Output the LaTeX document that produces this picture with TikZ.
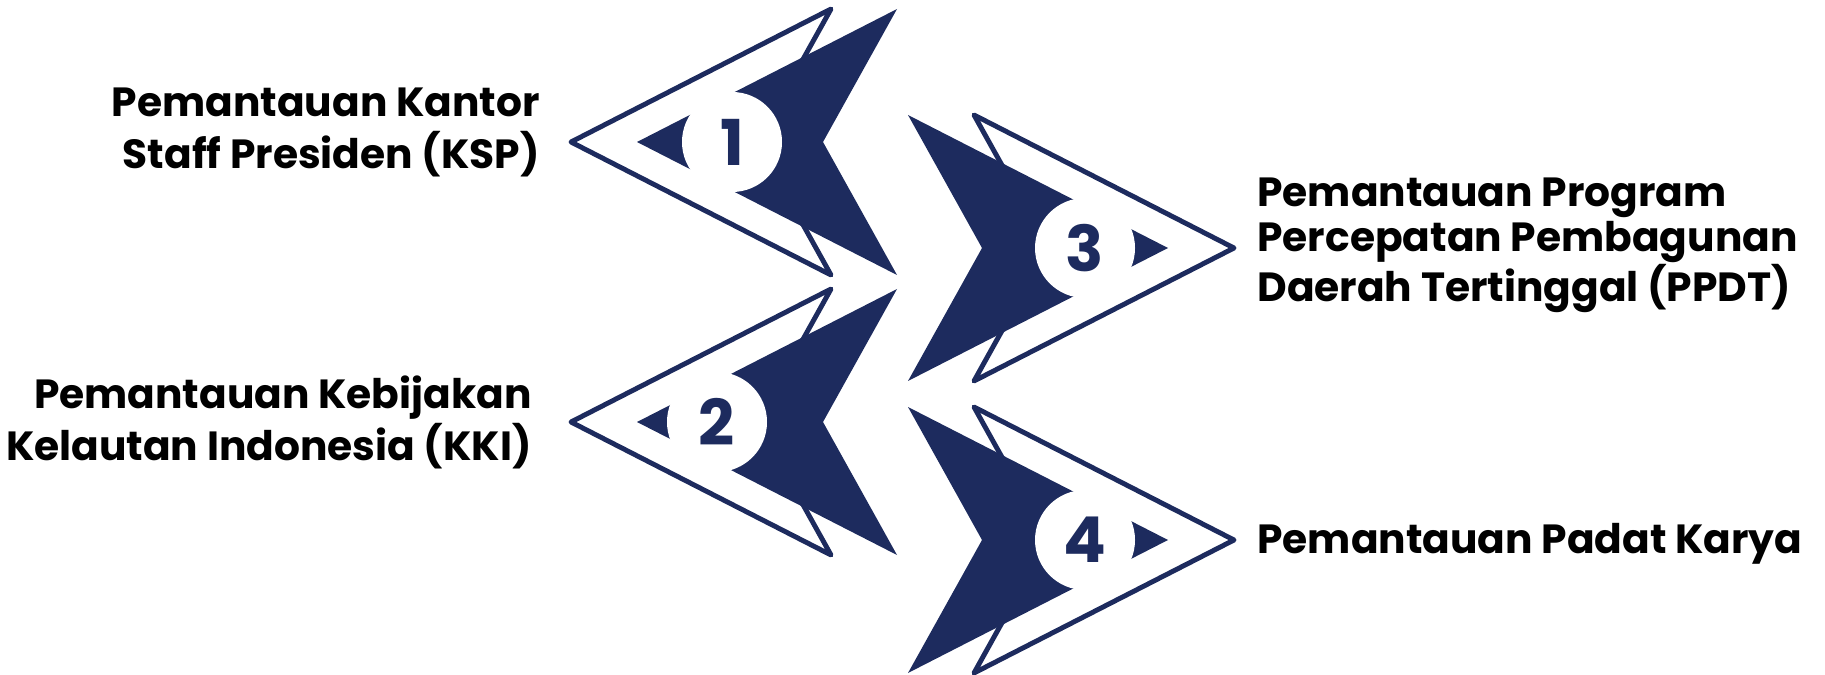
\documentclass[tikz,border=0pt]{standalone}
\usepackage{fontspec}
\setmainfont{Poppins}
\definecolor{navy}{HTML}{1D2B5E}
\tikzset{
  chevline/.style={draw=navy,line width=2.8pt,line join=round},
  chevfill/.style={fill=navy},
  numlabel/.style={font=\fontsize{36pt}{36pt}\selectfont\bfseries,text=navy,inner sep=0pt},
  itemlabel/.style={font=\fontsize{23.2pt}{29.6pt}\selectfont\bfseries,text=black,inner sep=0pt},
}
\begin{document}
\begin{tikzpicture}[x=0.02cm,y=-0.02cm]
\useasboundingbox (0,0) rectangle (1825,675);
% Chevrons: index/tip x/centre y/direction/circle x
\foreach \idx/\tx/\cy/\s/\cx in {1/637/142/1/732,2/637/422/1/717,3/1168/248/-1/1085,4/1168/540/-1/1085} {
  \draw[chevline] ({\tx-66*\s},\cy) -- ++({260*\s},-133) -- ++({-74*\s},133) -- ++({74*\s},133) -- cycle;
  \fill[chevfill] (\tx,\cy) -- ++({260*\s},-133) -- ++({-74*\s},133) -- ++({74*\s},133) -- cycle;
  \fill[white] (\cx,\cy) circle (50); % cut-out for the number
  \node[numlabel] (num\idx) at (\cx,\cy) {\idx};
}
% Labels
\node[itemlabel,anchor=east,align=right] (lbl1) at (540,132) {Pemantauan Kantor\\Staff Presiden (KSP)};
\node[itemlabel,anchor=east,align=right] (lbl2) at (532,422) {Pemantauan Kebijakan\\Kelautan Indonesia (KKI)};
\node[itemlabel,anchor=west,align=left,font=\fontsize{23.2pt}{25.6pt}\selectfont\bfseries] (lbl3) at (1257,245) {Pemantauan Program\\Percepatan Pembagunan\\Daerah Tertinggal (PPDT)};
\node[itemlabel,anchor=base west] (lbl4) at (1257,553) {Pemantauan Padat Karya};
\end{tikzpicture}
\end{document}
